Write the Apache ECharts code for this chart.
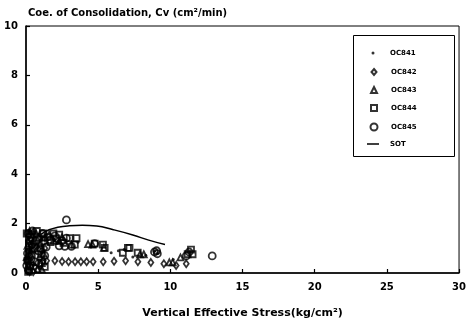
<!DOCTYPE html>
<html>
<head>
<meta charset="utf-8">
<script src="https://cdn.jsdelivr.net/npm/echarts@6/dist/echarts.min.js"></script>
<style>html,body{margin:0;padding:0;background:#fff}#c{width:469px;height:324px}</style>
</head>
<body>
<div id="c"></div>
<script>
var xTicks = [0, 5, 10, 15, 20, 25, 30];
var yTicks = [0, 2, 4, 6, 8, 10];
var seriesNames = ['OC841', 'OC842', 'OC843', 'OC844', 'OC845', 'SOT'];

var oc841 = [[0.1,0.2],[0.2,0.6],[0.3,1.0],[0.15,1.4],[0.4,1.6],[0.5,0.3],[0.8,1.2],[1.0,1.5],[1.3,1.3],[1.8,1.5],[2.2,1.2],[0.05,0.9],[0.35,0.15],[0.6,1.45],[0.9,0.2],[1.1,1.1],[0.25,1.25],[1.5,1.2],[2.0,1.35],[0.7,0.05],[3.6,1.25],[4.5,1.05],[5.9,0.82],[6.4,0.9],[6.8,0.95],[7.4,0.65],[8.3,0.72],[8.9,0.88],[9.1,0.8],[10.2,0.55]];
var oc842 = [[0.1,0.1],[0.2,0.35],[0.3,0.7],[0.4,1.1],[0.2,1.5],[0.6,0.25],[0.95,0.6],[1.1,0.9],[1.2,0.5],[0.05,0.5],[0.15,0.9],[0.35,1.35],[0.5,1.65],[0.75,1.05],[1.0,0.3],[0.5,0.05],[1.3,1.0],[0.25,0.05],[1.43,0.5],[2.0,0.5],[2.5,0.47],[2.95,0.46],[3.4,0.46],[3.8,0.46],[4.2,0.46],[4.65,0.46],[5.35,0.46],[6.1,0.48],[6.9,0.5],[7.75,0.46],[8.65,0.43],[9.55,0.37],[10.4,0.3],[11.1,0.37]];
var oc843 = [[0.15,0.3],[0.3,0.9],[0.5,1.3],[0.7,1.6],[0.25,1.7],[1.0,1.2],[1.2,0.8],[0.8,0.15],[0.05,0.65],[0.1,1.1],[0.4,0.45],[0.9,1.45],[1.3,1.45],[1.1,0.15],[0.45,0.95],[1.9,1.3],[2.5,1.45],[1.6,1.55],[2.3,1.3],[3.15,1.15],[4.3,1.17],[4.6,1.15],[5.4,1.02],[7.9,0.76],[8.16,0.76],[9.93,0.43],[10.16,0.43],[10.7,0.63]];
var oc844 = [[0.1,0.5],[0.2,1.2],[0.35,1.55],[0.6,1.0],[0.9,1.4],[1.1,0.4],[1.2,1.6],[1.5,1.45],[1.9,1.6],[2.1,1.4],[0.05,1.6],[0.3,0.3],[0.4,0.75],[0.75,1.7],[1.05,0.75],[1.3,0.25],[1.7,1.25],[2.3,1.55],[0.15,0.05],[2.6,1.22],[3.03,1.41],[3.5,1.41],[3.38,1.15],[4.76,1.19],[5.33,1.15],[5.45,1.02],[6.71,0.82],[7.06,1.02],[7.17,1.02],[7.74,0.82],[11.2,0.76],[11.43,0.95],[11.54,0.76]];
var oc845 = [[0.1,0.8],[0.2,0.1],[0.3,1.3],[0.45,1.7],[0.6,0.45],[0.85,0.9],[1.0,1.0],[1.2,1.3],[1.3,0.7],[1.7,1.35],[2.3,1.1],[0.05,0.3],[0.15,1.6],[0.4,1.15],[0.7,1.3],[0.9,0.4],[1.15,1.6],[1.4,1.05],[2.0,1.5],[2.5,1.3],[0.35,0.55],[2.8,2.15],[2.69,1.08],[3.15,1.08],[2.8,1.41],[4.76,1.19],[8.9,0.85],[9.05,0.9],[9.1,0.78],[11.1,0.69],[11.3,0.85],[12.9,0.69]];
var sot = [[1.0,1.55],[1.6,1.75],[2.2,1.85],[3.0,1.91],[3.9,1.93],[4.9,1.9],[6.0,1.76],[7.4,1.54],[8.5,1.33],[9.63,1.15]];

var FONT = 'DejaVu Sans';
var hollow = {color: 'rgba(255,255,255,0)', borderColor: '#000', borderWidth: 1.8};

var legendRows = [53, 72, 90, 108, 127, 144];
var legendIconW = [3, 5, 6, 6, 7, 12];
var legendIconH = [3, 6, 6, 6, 7, 1.5];
var legends = seriesNames.map(function (n, i) {
  var d = {name: n};
  if (n === 'SOT') d.icon = 'rect';
  var w = legendIconW[i];
  return {
    data: [d],
    left: 373 - w / 2, top: legendRows[i] - 5,
    padding: 0,
    itemWidth: w, itemHeight: legendIconH[i],
    textStyle: {fontFamily: FONT, fontWeight: 'bold', fontSize: 7, color: '#000', lineHeight: 10,
      padding: [0, 0, 0, 12 - w / 2]}
  };
});

var chart = echarts.init(document.getElementById('c'), null, {renderer: 'canvas'});
chart.setOption({
  animation: false,
  backgroundColor: '#fff',
  title: {
    text: 'Coe. of Consolidation, Cv (cm²/min)',
    left: 23, top: 3,
    textStyle: {fontFamily: FONT, fontWeight: 'bold', fontSize: 10, color: '#000'}
  },
  graphic: [{
    type: 'rect', z: 10, silent: true,
    shape: {x: 353.5, y: 35.5, width: 101, height: 121},
    style: {fill: 'none', stroke: '#000', lineWidth: 1}
  }],
  legend: legends,
  grid: {left: 26, right: 7, top: 26, bottom: 43, show: true, borderColor: '#000', borderWidth: 1},
  xAxis: {
    type: 'value', min: 0, max: 30, interval: 5,
    name: 'Vertical Effective Stress(kg/cm²)', nameLocation: 'middle', nameGap: 35,
    nameTextStyle: {fontFamily: FONT, fontWeight: 'bold', fontSize: 11, color: '#000'},
    axisLine: {lineStyle: {color: '#000', width: 1.5}},
    axisTick: {inside: true, length: 4, lineStyle: {color: '#000', width: 1.2}},
    axisLabel: {fontFamily: FONT, fontWeight: 'bold', fontSize: 10, color: '#000', margin: 9,
      formatter: function (v) { return xTicks.indexOf(v) >= 0 ? String(v) : ''; }},
    splitLine: {show: false}
  },
  yAxis: {
    type: 'value', min: 0, max: 10, interval: 2,
    axisLine: {show: true, lineStyle: {color: '#000', width: 1.5}},
    axisTick: {show: true, inside: true, length: 4, lineStyle: {color: '#000', width: 1.2}},
    axisLabel: {fontFamily: FONT, fontWeight: 'bold', fontSize: 10, color: '#000', margin: 8,
      formatter: function (v) { return yTicks.indexOf(v) >= 0 ? String(v) : ''; }},
    splitLine: {show: false}
  },
  series: [
    {name: 'OC841', type: 'scatter', data: oc841, symbol: 'circle', symbolSize: 3, itemStyle: {color: '#000'}},
    {name: 'OC842', type: 'scatter', data: oc842, symbol: 'diamond', symbolSize: [5, 7], itemStyle: hollow},
    {name: 'OC843', type: 'scatter', data: oc843, symbol: 'triangle', symbolSize: 6, itemStyle: hollow},
    {name: 'OC844', type: 'scatter', data: oc844, symbol: 'rect', symbolSize: 6, itemStyle: hollow},
    {name: 'OC845', type: 'scatter', data: oc845, symbol: 'circle', symbolSize: 7, itemStyle: hollow},
    {name: 'SOT', type: 'line', data: sot, smooth: true, symbol: 'none', showSymbol: false,
      lineStyle: {color: '#000', width: 1.5}, itemStyle: {color: '#000'}}
  ]
});
</script>
</body>
</html>
